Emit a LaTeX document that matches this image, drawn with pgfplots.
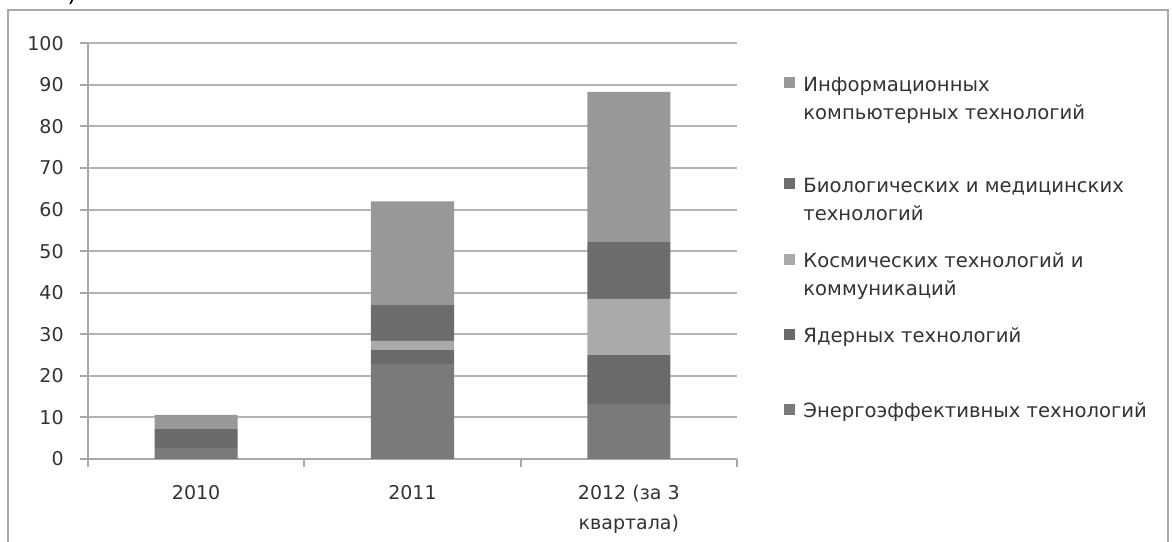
\documentclass[border=0pt]{standalone}
\usepackage{pgfplots}
\pgfplotsset{compat=1.18}
\usepackage{fontspec}
\setmainfont{DejaVu Sans}
\definecolor{cinfo}{HTML}{989898}
\definecolor{cbio}{HTML}{6D6D6D}
\definecolor{cspace}{HTML}{AAAAAA}
\definecolor{cnucl}{HTML}{6A6A6A}
\definecolor{cener}{HTML}{7A7A7A}
\definecolor{axgray}{HTML}{A8A8A8}
\definecolor{grdgray}{HTML}{B4B4B4}
\definecolor{txt}{HTML}{333333}
\newcommand{\lent}[1]{\rule[-27.75bp]{0pt}{10bp}\begin{tabular}[t]{@{}l@{}}#1\end{tabular}}
\newcommand{\lentup}[1]{\rule[-27.75bp]{0pt}{10bp}\raisebox{13bp}[0pt][0pt]{\begin{tabular}[t]{@{}l@{}}#1\end{tabular}}}
\newcommand{\xl}[1]{\begin{tabular}[t]{@{}c@{}}#1\end{tabular}}
\pgfplotsset{infoimage/.style={legend image code/.code={%
  \path[fill=none, draw=none] (0bp,1.5bp) rectangle (5.5bp,7bp);
  \fill[cinfo, overlay] (0bp,14.5bp) rectangle (5.5bp,20bp);}}}
\begin{document}
\begin{tikzpicture}
\fontsize{9.5bp}{14bp}\selectfont
\path[use as bounding box] (0,0) rectangle (586bp,271bp);
\draw[color=axgray, line width=1.2bp] (4bp,-5bp) -- (4bp,266bp) -- (584bp,266bp) -- (584bp,-5bp);
\node[anchor=base, font=\fontsize{12bp}{14bp}\selectfont, text=black] at (36bp,270bp) {)};
\begin{axis}[
  at={(44bp,41.5bp)}, anchor=south west,
  scale only axis, width=324.5bp, height=207.85bp,
  xmin=-0.5, xmax=2.5, ymin=0, ymax=100,
  ybar stacked, bar width=41.5bp,
  axis x line*=bottom, axis y line*=left,
  axis line style={draw=axgray, line width=1bp, -},
  xtick={-0.5,0.5,1.5,2.5}, xticklabels={},
  extra x ticks={0,1,2},
  extra x tick labels={\xl{2010},\xl{2011},\xl{2012 (за 3\\квартала)}},
  extra x tick style={major tick length=0pt, grid=none},
  xticklabel style={anchor=base, inner sep=0pt, yshift=-20bp,
    font=\fontsize{9.5bp}{15bp}\selectfont, text=txt},
  ytick={0,10,...,100},
  ymajorgrids, grid style={draw=grdgray, line width=1bp},
  tick align=outside, major tick length=4bp,
  tick style={draw=axgray, line width=1bp},
  /pgf/number format/assume math mode=true,
  yticklabel style={anchor=east, inner sep=0pt, xshift=-8bp,
    font=\fontsize{9.5bp}{14bp}\selectfont, text=txt},
  legend image code/.code={\fill[#1] (0bp,1.5bp) rectangle (5.5bp,7bp);},
  legend style={at={(axis description cs:1.0724,0.8564)}, anchor=north west,
    draw=none, fill=none, inner sep=0pt, row sep=0pt, column sep=4bp,
    cells={anchor=base west},
    nodes={inner sep=0pt, text height=, text depth=},
    font=\fontsize{9.8bp}{14bp}\selectfont, text=txt},
  reverse legend,
]
\addplot[fill=cener, draw=none] coordinates {(0,2.6) (1,22.8) (2,13.2)};
\addlegendentry{\lent{Энергоэффективных технологий}}
\addplot[fill=cnucl, draw=none] coordinates {(0,4.6) (1,3.4) (2,11.8)};
\addlegendentry{\lent{Ядерных технологий}}
\addplot[fill=cspace, draw=none] coordinates {(0,0) (1,2.2) (2,13.5)};
\addlegendentry{\lent{Космических технологий и\\коммуникаций}}
\addplot[fill=cbio, draw=none] coordinates {(0,0) (1,8.6) (2,13.7)};
\addlegendentry{\lent{Биологических и медицинских\\технологий}}
\addplot[fill=cinfo, draw=none, infoimage]
  coordinates {(0,3.4) (1,25.0) (2,36.1)};
\addlegendentry{\lentup{Информационных\\компьютерных технологий}}
\end{axis}
\end{tikzpicture}
\end{document}
